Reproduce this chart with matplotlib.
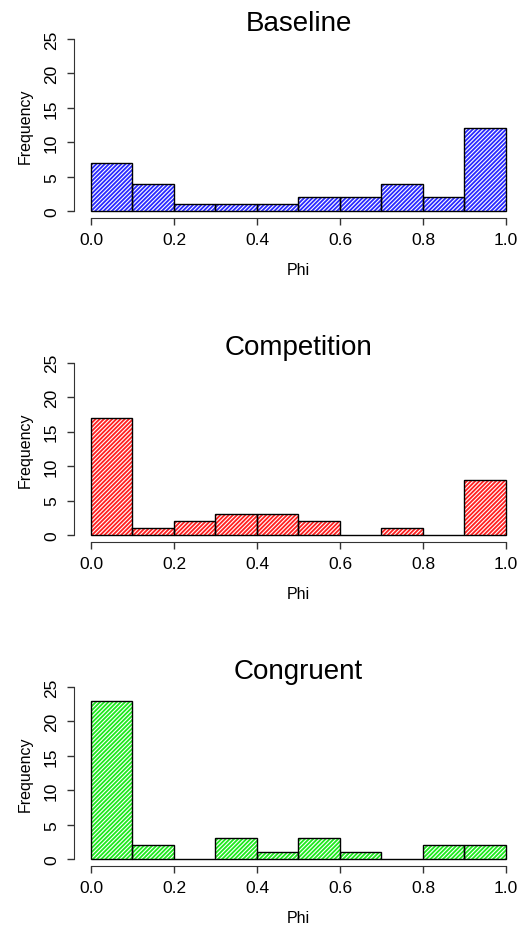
import numpy as np
import matplotlib.pyplot as plt

plt.rcParams['font.family'] = ['Liberation Sans', 'DejaVu Sans']
plt.rcParams['hatch.linewidth'] = 0.8

# bin edges and counts
edges = np.round(np.arange(0, 1.01, 0.1), 2)
baseline = [7, 4, 1, 1, 1, 2, 2, 4, 2, 12]
competition = [17, 1, 2, 3, 3, 2, 0, 1, 0, 8]
congruent = [23, 2, 0, 3, 1, 3, 1, 0, 2, 2]

titles = ['Baseline', 'Competition', 'Congruent']
counts = [baseline, competition, congruent]
colors = ['#2a2aff', '#ff2020', '#1ee81e']
xticks = [0.0, 0.2, 0.4, 0.6, 0.8, 1.0]
yticks = [0, 5, 10, 15, 20, 25]

fig = plt.figure(figsize=(5.26, 9.28), dpi=100)
bottoms = [0.764, 0.415, 0.0657]

for b, title, cnt, col in zip(bottoms, titles, counts, colors):
    ax = fig.add_axes([0.1414, b, 0.852, 0.2004])
    lefts = edges[:-1]
    w = np.diff(edges)
    # hatched fill (white stripes on colour)
    ax.bar(lefts, cnt, width=w, align='edge', color=col, edgecolor='white',
           hatch='////////', linewidth=0)
    # black outline
    ax.bar(lefts, cnt, width=w, align='edge', fill=False, edgecolor='black',
           linewidth=1.0)
    ax.set_xlim(-0.04, 1.04)
    ax.set_ylim(-1, 26)
    for s in ['top', 'right']:
        ax.spines[s].set_visible(False)
    ax.spines['bottom'].set_bounds(0, 1)
    ax.spines['left'].set_bounds(0, 25)
    ax.spines['bottom'].set_color('#333333')
    ax.spines['left'].set_color('#333333')
    ax.set_xticks(xticks)
    ax.set_xticklabels(['%.1f' % v for v in xticks])
    ax.set_yticks(yticks)
    ax.set_yticklabels([str(v) for v in yticks], rotation=90, va='center')
    ax.tick_params(axis='both', length=5, width=1, labelsize=12.5, color='#333333')
    ax.tick_params(axis='x', pad=5)
    ax.tick_params(axis='y', pad=6)
    ax.set_xlabel('Phi', fontsize=11.5, labelpad=11)
    ax.set_ylabel('Frequency', fontsize=11.5, labelpad=8)
    ax.set_title(title, fontsize=20, y=1.012, pad=0)

fig.savefig('out.png', dpi=100)
